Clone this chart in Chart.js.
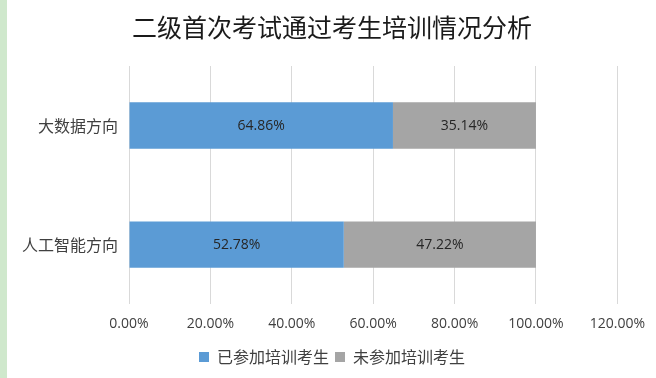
<!DOCTYPE html>
<html lang="zh">
<head>
<meta charset="UTF-8">
<title>二级首次考试通过考生培训情况分析</title>
<style>
    body { margin: 0; background: #fff; }
    #wrap {
        position: absolute; left: 0; top: 0;
        width: 649px; height: 378px;
        border-left: 7px solid #cfe8cc;
    }
</style>
<script src="https://cdn.jsdelivr.net/npm/chart.js"></script>
</head>
<body>
<div id="wrap"><canvas id="chart" width="649" height="378"></canvas></div>
<script>
    const categories = ['大数据方向', '人工智能方向'];
    const trained = [64.86, 52.78];
    const untrained = [35.14, 47.22];
    const seriesNames = ['已参加培训考生', '未参加培训考生'];
    const xTicks = [0, 20, 40, 60, 80, 100, 120];

    const fontFamily = '"Noto Sans CJK SC", "Noto Sans", sans-serif';
    const numFont = '"Open Sans", "Noto Sans", sans-serif';

    // draws the value in the middle of each bar
    const barLabels = {
        id: 'barLabels',
        afterDatasetsDraw(chart) {
            const ctx = chart.ctx;
            ctx.save();
            ctx.font = '14px ' + numFont;
            ctx.fillStyle = '#262626';
            ctx.textAlign = 'center';
            ctx.textBaseline = 'middle';
            chart.data.datasets.forEach((ds, i) => {
                chart.getDatasetMeta(i).data.forEach((bar, j) => {
                    const p = bar.getProps(['x', 'y', 'base'], true);
                    ctx.fillText(ds.data[j].toFixed(2) + '%', (p.x + p.base) / 2, p.y);
                });
            });
            ctx.restore();
        }
    };

    new Chart(document.getElementById('chart'), {
        type: 'bar',
        data: {
            labels: categories,
            datasets: [
                { label: seriesNames[0], data: trained, backgroundColor: '#5b9bd5' },
                { label: seriesNames[1], data: untrained, backgroundColor: '#a5a5a5' }
            ]
        },
        options: {
            indexAxis: 'y',
            responsive: false,
            animation: false,
            layout: { padding: { left: 4, right: 3, top: 0, bottom: 3 } },
            datasets: { bar: { categoryPercentage: 1, barPercentage: 0.39 } },
            scales: {
                x: {
                    stacked: true,
                    min: 0,
                    max: 120,
                    afterBuildTicks: axis => { axis.ticks = xTicks.map(v => ({ value: v })); },
                    grid: { color: '#d9d9d9', lineWidth: 1, drawTicks: false },
                    border: { display: false },
                    ticks: {
                        padding: 11,
                        color: '#404040',
                        font: { size: 14, family: numFont },
                        callback: v => v.toFixed(2) + '%'
                    }
                },
                y: {
                    stacked: true,
                    grid: { display: false, drawTicks: false },
                    border: { display: false },
                    ticks: {
                        padding: 11,
                        color: '#404040',
                        font: { size: 16, family: fontFamily }
                    }
                }
            },
            plugins: {
                title: {
                    display: true,
                    text: '二级首次考试通过考生培训情况分析',
                    color: '#1a1a1a',
                    font: { size: 25, weight: 'normal', family: fontFamily },
                    padding: { top: 12, bottom: 24 }
                },
                legend: {
                    position: 'bottom',
                    labels: {
                        boxWidth: 10,
                        boxHeight: 10,
                        padding: 6,
                        color: '#404040',
                        font: { size: 16, family: fontFamily }
                    }
                },
                tooltip: { enabled: false }
            }
        },
        plugins: [barLabels]
    });
</script>
</body>
</html>
